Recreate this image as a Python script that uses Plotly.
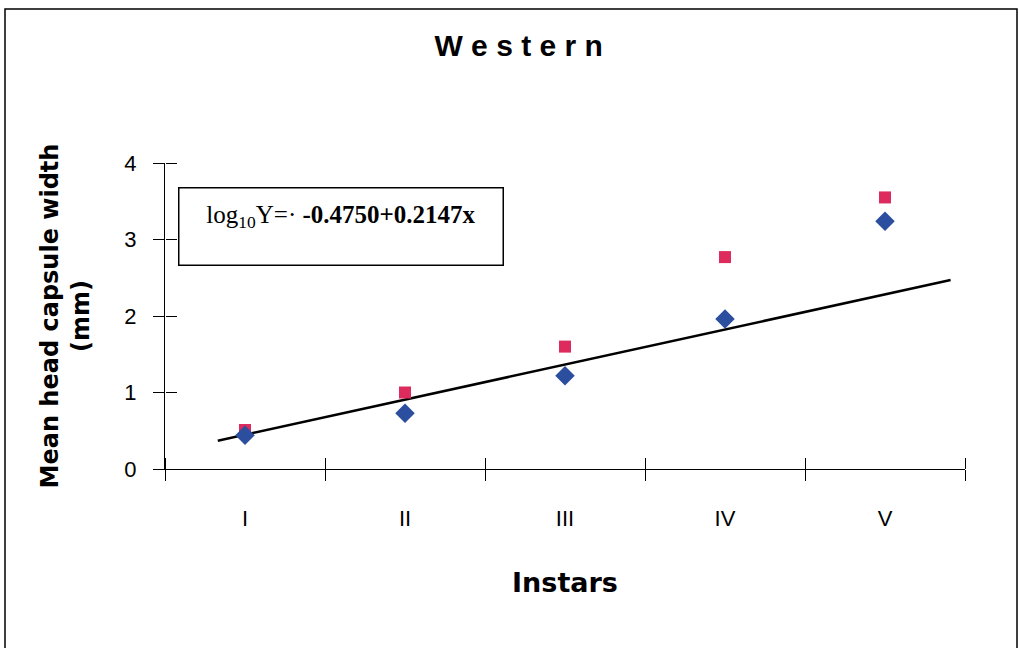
import plotly.graph_objects as go

instars = ["I", "II", "III", "IV", "V"]
instar_pos = [1, 2, 3, 4, 5]
series_red = [0.51, 1.00, 1.60, 2.77, 3.55]
series_blue = [0.44, 0.73, 1.22, 1.96, 3.24]
trend_x = [0.83, 5.41]
trend_y = [0.37, 2.47]
boundaries = [0.5, 1.5, 2.5, 3.5, 4.5, 5.5]
y_ticks = [0, 1, 2, 3, 4]

fig = go.Figure()
fig.add_trace(go.Scatter(x=trend_x, y=trend_y, mode="lines",
                         line=dict(color="black", width=2.5), showlegend=False, hoverinfo="skip"))
fig.add_trace(go.Scatter(x=instar_pos, y=series_red, mode="markers",
                         marker=dict(symbol="square", size=12, color="#DC2B5C"), showlegend=False))
fig.add_trace(go.Scatter(x=instar_pos, y=series_blue, mode="markers",
                         marker=dict(symbol="diamond", size=15, color="#2C4E9E"), showlegend=False))
fig.add_trace(go.Scatter(x=[None], y=[None], xaxis="x2", yaxis="y2", showlegend=False))
fig.add_trace(go.Scatter(x=[None], y=[None], xaxis="x3", yaxis="y3", showlegend=False))

axis_font = dict(family="Liberation Sans, Arial", size=22, color="black")
tick_common = dict(tickcolor="black", tickwidth=1.3, ticklen=11,
                   showgrid=False, zeroline=False, showline=False)

fig.update_layout(
    width=1019, height=648,
    paper_bgcolor="white", plot_bgcolor="white",
    margin=dict(l=165, r=54, t=163, b=179),
    title=dict(text="W e s t e r n", x=0.509, xanchor="center", y=0.93, yanchor="middle",
               font=dict(family="Liberation Sans, Arial", size=30, color="black", weight="bold")),
    xaxis=dict(range=[0.5, 5.5], tickvals=boundaries, ticks="outside", ticklen=11, tickcolor="black",
               tickwidth=1.3, showticklabels=False,
               showline=True, linecolor="black", linewidth=1.3, showgrid=False, zeroline=False,
               title=dict(text="Instars", standoff=92,
                          font=dict(family="DejaVu Sans, Arial", size=27, color="black", weight="bold"))),
    xaxis2=dict(overlaying="x", anchor="y", range=[0.5, 5.5], tickvals=instar_pos, ticktext=instars,
                ticks="", tickfont=axis_font, ticklabelstandoff=34, showgrid=False, zeroline=False,
                showline=False),
    xaxis3=dict(overlaying="x", side="top", anchor="free", position=0, range=[0.5, 5.5],
                tickvals=boundaries, ticks="outside", showticklabels=False, **tick_common),
    yaxis=dict(range=[0, 4], tickvals=y_ticks, ticks="outside", ticklen=11, tickcolor="black", tickwidth=1.3,
               showline=True, linecolor="black", linewidth=1.3, showgrid=False, zeroline=False,
               tickfont=axis_font, ticklabelstandoff=12,
               title=dict(text="Mean head capsule width<br>(mm)", standoff=27,
                          font=dict(family="DejaVu Sans, Arial", size=24, color="black", weight="bold"))),
    yaxis2=dict(overlaying="y", anchor="x", range=[0, 4], showticklabels=False, ticks="",
                showgrid=False, zeroline=False, showline=False),
    yaxis3=dict(overlaying="y", side="right", anchor="free", position=0, range=[0, 4],
                tickvals=y_ticks, ticks="outside", showticklabels=False, **tick_common),
)

fig.add_annotation(
    xref="paper", yref="paper", x=0.016, y=0.92, xanchor="left", yanchor="top",
    text="log<sub>10</sub>Y=· <b>-0.4750+0.2147x</b>",
    showarrow=False, align="center", valign="top",
    width=299, height=52, borderpad=12,
    bordercolor="black", borderwidth=1.5, bgcolor="white",
    font=dict(family="Liberation Serif, Times New Roman", size=25, color="black"),
)

fig.add_shape(type="rect", xref="paper", yref="paper", x0=-0.2, x1=1.065, y0=-0.59, y1=1.503,
              line=dict(color="black", width=1.5), fillcolor="rgba(0,0,0,0)", layer="below")

fig.write_html("out.html", config={"displayModeBar": False},
               post_script="document.body.style.margin='0';document.body.style.overflow='hidden';")
